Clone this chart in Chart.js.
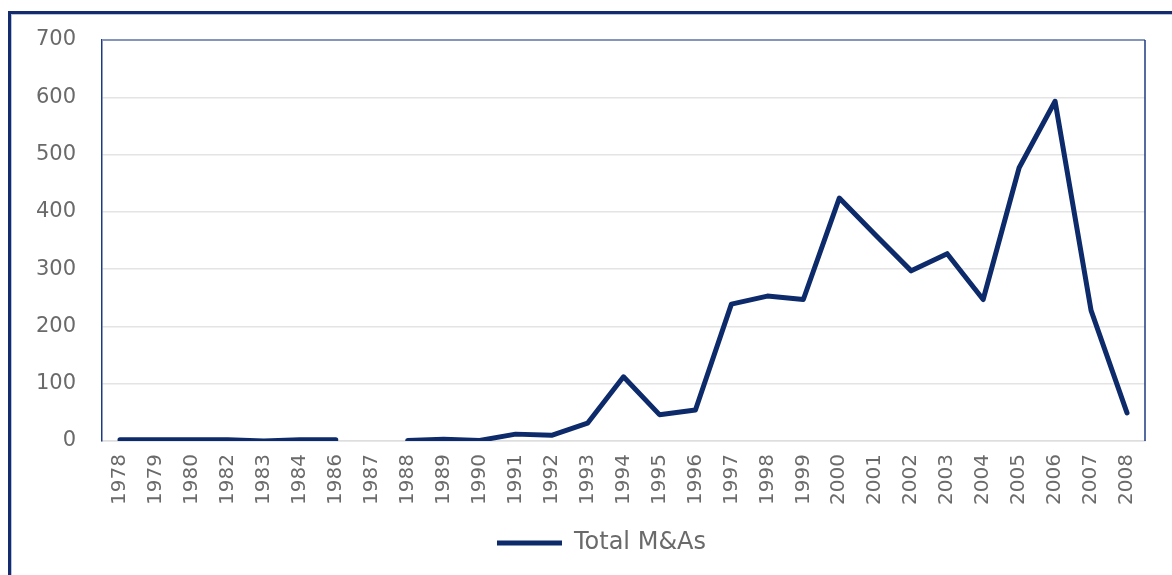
<!DOCTYPE html>
<html>
<head>
<meta charset="utf-8">
<script src="https://cdn.jsdelivr.net/npm/chart.js@4.4.1/dist/chart.umd.min.js"></script>
<style>
  html, body { margin: 0; padding: 0; background: #fff; }
  body { width: 1172px; height: 575px; overflow: hidden; position: relative; }
  #frame {
    position: absolute; left: 8px; top: 11px; width: 1300px; height: 700px;
    border-left: 3px solid #142c6e; border-top: 3px solid #142c6e;
    box-shadow: inset 1px 1px 0 #b8c3dc;
  }
  #wrap { position: absolute; left: 0; top: 0; width: 1172px; height: 575px; }
</style>
</head>
<body>
<div id="frame"></div>
<div id="wrap"><canvas id="chart" width="1172" height="575"></canvas></div>
<script>
// ========================================
// DATA
// ========================================
const years = ['1978', '1979', '1980', '1982', '1983', '1984', '1986', '1987', '1988', '1989',
  '1990', '1991', '1992', '1993', '1994', '1995', '1996', '1997', '1998', '1999',
  '2000', '2001', '2002', '2003', '2004', '2005', '2006', '2007', '2008'];
const totalMAs = [2, 2, 2, 2, 0, 2, 2, null, 1, 3,
  1, 12, 10, 31, 112, 46, 54, 239, 253, 247,
  424, 360, 297, 327, 247, 477, 593, 228, 49];
const yTicks = [0, 100, 200, 300, 400, 500, 600, 700];

const NAVY = '#0d2a6b';
const TEXT = '#6a6a6a';

// ========================================
// PLOT FRAME (top + right edges) + legend nudge
// ========================================
const frameEdges = {
  id: 'frameEdges',
  afterLayout(chart) {
    // legend sits centred under the plot area, not the whole canvas
    const lg = chart.legend;
    if (lg) { lg.left += 29; lg.right += 29; }
  },
  afterDraw(chart) {
    const { ctx, chartArea: a } = chart;
    ctx.save();
    ctx.lineWidth = 2;
    ctx.strokeStyle = '#8596bd';
    ctx.beginPath();
    ctx.moveTo(a.left, a.top);
    ctx.lineTo(a.right, a.top);
    ctx.stroke();
    ctx.strokeStyle = '#1d3a82';
    ctx.lineWidth = 1.5;
    ctx.beginPath();
    ctx.moveTo(a.right, a.top);
    ctx.lineTo(a.right, a.bottom);
    ctx.stroke();
    ctx.restore();
  }
};

new Chart(document.getElementById('chart'), {
  type: 'line',
  data: {
    labels: years,
    datasets: [{
      label: 'Total M&As',
      data: totalMAs,
      borderColor: NAVY,
      backgroundColor: NAVY,
      borderWidth: 5,
      borderJoinStyle: 'round',
      borderCapStyle: 'round',
      pointRadius: 0,
      tension: 0,
      spanGaps: false
    }]
  },
  options: {
    responsive: false,
    animation: false,
    layout: { padding: { left: 0, right: 27, top: 40, bottom: 10 } },
    plugins: {
      tooltip: { enabled: false },
      legend: {
        position: 'bottom',
        labels: {
          color: TEXT,
          font: { family: 'DejaVu Sans', size: 24 },
          usePointStyle: true,
          pointStyle: 'line',
          pointStyleWidth: 65,
          boxHeight: 5,
          padding: 10
        }
      }
    },
    scales: {
      x: {
        offset: true,
        afterFit(scale) { scale.height = 80; },
        grid: { display: false, drawTicks: false },
        border: { display: true, color: '#dedede', width: 1.5 },
        ticks: {
          color: TEXT,
          font: { family: 'DejaVu Sans', size: 20 },
          minRotation: 90,
          maxRotation: 90,
          autoSkip: false,
          padding: 13
        }
      },
      y: {
        min: 0,
        max: 700,
        afterFit(scale) { scale.width = 102; },
        afterBuildTicks(scale) { scale.ticks = yTicks.map(v => ({ value: v })); },
        grid: { color: '#e4e4e4', lineWidth: 1.5, drawTicks: false },
        border: { display: true, color: '#1d3a82', width: 1.5 },
        ticks: {
          color: TEXT,
          font: { family: 'DejaVu Sans', size: 21 },
          padding: 26
        }
      }
    }
  },
  plugins: [frameEdges]
});
</script>
</body>
</html>
